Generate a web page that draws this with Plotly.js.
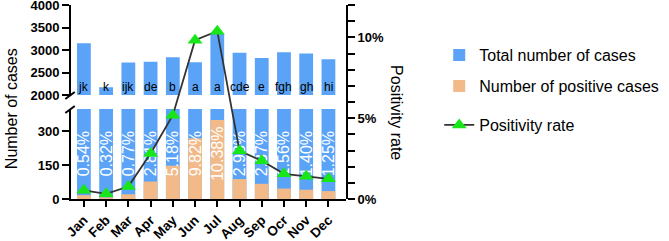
<!DOCTYPE html>
<html>
<head>
<meta charset="utf-8">
<script src="https://cdn.plot.ly/plotly-3.0.1.min.js"></script>
<style>html,body{margin:0;padding:0;background:#fff;}#chart{width:669px;height:241px;}</style>
</head>
<body>
<div id="chart"></div>
<script>
const months = ['Jan','Feb','Mar','Apr','May','Jun','Jul','Aug','Sep','Ocr','Nov','Dec'];
const totalCases = [3150, 2170, 2720, 2740, 2840, 2730, 3355, 2940, 2820, 2950, 2925, 2795];
const positiveCases = [17, 7, 21, 77, 147, 268, 348, 88, 67, 46, 41, 35];
const positivityRate = [0.54, 0.32, 0.77, 2.81, 5.18, 9.82, 10.38, 2.98, 2.37, 1.56, 1.40, 1.25];
const groupLetters = ['jk','k','ijk','de','b','a','a','cde','e','fgh','gh','hi'];
const rightTicks = [0,1,2,3,4,5,6,7,8,9,10,11,12];
const rightTickText = ['0%','','','','','5%','','','','','10%','',''];

const BLUE = '#5aa3f7';
const ORANGE = '#f1ba88';
const FONT = 'Arial, "Liberation Sans", sans-serif';

// pixel helpers for the paper area (plot area: x 71..363, y 5..199)
const W = 669, H = 241, L = 71, R = 363, T = 5, B = 199;
const px = X => (X - L) / (R - L);
const py = Y => (B - Y) / (B - T);

const rateLabels = positivityRate.map(v => v.toFixed(2) + '%');

const traces = [
  { type: 'bar', x: months, y: totalCases, xaxis: 'x', yaxis: 'y2', width: 0.62,
    marker: { color: BLUE }, name: 'Total number of cases', showlegend: false, hoverinfo: 'skip' },
  { type: 'bar', x: months, y: totalCases, xaxis: 'x', yaxis: 'y', width: 0.62,
    marker: { color: BLUE }, name: 'Total number of cases', legend: 'legend' },
  { type: 'bar', x: months, y: positiveCases, xaxis: 'x', yaxis: 'y', width: 0.62,
    marker: { color: ORANGE }, name: 'Number of positive cases', legend: 'legend2' },
  { type: 'bar', x: months, y: months.map(() => 280), base: months.map(() => 60),
    xaxis: 'x', yaxis: 'y', width: 0.95, marker: { color: 'rgba(0,0,0,0)' },
    text: rateLabels, textposition: 'inside', insidetextanchor: 'middle', textangle: -90,
    constraintext: 'none', textfont: { color: '#ffffff', size: 16, family: FONT },
    showlegend: false, hoverinfo: 'skip' },
  { type: 'scatter', mode: 'lines+markers', x: months, y: positivityRate, xaxis: 'x', yaxis: 'y3',
    line: { color: '#333333', width: 1.8 },
    marker: { symbol: 'triangle-up', size: 13, color: '#19e619' },
    name: 'Positivity rate', legend: 'legend3' }
];

const axisCommon = {
  showline: true, linecolor: '#000', linewidth: 2, ticks: 'outside', ticklen: 7, tickwidth: 2,
  tickcolor: '#000', showgrid: false, zeroline: false, ticklabeloverflow: 'allow',
  tickfont: { family: FONT, size: 13, color: '#000', weight: 'bold' }
};

const annotations = groupLetters.map((t, i) => ({
  x: months[i], y: 2000, xref: 'x', yref: 'y2', text: t, showarrow: false,
  yanchor: 'bottom', yshift: -1, font: { family: FONT, size: 12, color: '#000' }
}));
annotations.push({ xref: 'paper', yref: 'paper', x: px(8), y: py(108.5), xanchor: 'center', yanchor: 'middle',
  text: 'Number of cases', textangle: -90, showarrow: false, font: { family: FONT, size: 16, color: '#000' } });
annotations.push({ xref: 'paper', yref: 'paper', x: px(416.5), y: py(112.5), xanchor: 'center', yanchor: 'middle',
  text: 'Positivity rate', textangle: 90, showarrow: false, font: { family: FONT, size: 16, color: '#000' } });

const legendCommon = { xanchor: 'left', yanchor: 'middle', x: px(462), bgcolor: 'rgba(0,0,0,0)',
  font: { family: FONT, size: 16, color: '#000' }, borderwidth: 0 };

const layout = {
  width: W, height: H,
  margin: { l: L, r: W - R, t: T, b: H - B, pad: 0 },
  paper_bgcolor: '#fff', plot_bgcolor: 'rgba(0,0,0,0)',
  barmode: 'overlay',
  font: { family: FONT },
  xaxis: Object.assign({}, axisCommon, { domain: [0, 1], anchor: 'y', range: [-0.58, 11.79],
    tickangle: -45, ticklen: 6, tickfont: { family: FONT, size: 13.5, color: '#000', weight: 'bold' } }),
  yaxis: Object.assign({}, axisCommon, { domain: [0, py(109)], anchor: 'x', range: [0, 397],
    tickvals: [0, 150, 300] }),
  yaxis2: Object.assign({}, axisCommon, { domain: [py(95), 1], anchor: 'x', range: [2000, 4000],
    tickvals: [2000, 2500, 3000, 3500, 4000] }),
  yaxis3: Object.assign({}, axisCommon, { domain: [0, 1], anchor: 'x', side: 'right', range: [0, 12],
    tickvals: rightTicks, ticktext: rightTickText }),
  legend: Object.assign({}, legendCommon, { y: py(55) }),
  legend2: Object.assign({}, legendCommon, { y: py(86) }),
  legend3: Object.assign({}, legendCommon, { y: py(125) }),
  annotations: annotations,
  shapes: [
    { type: 'line', xref: 'paper', yref: 'paper', x0: px(65), y0: py(99), x1: px(75), y1: py(92),
      line: { color: '#000', width: 2 } },
    { type: 'line', xref: 'paper', yref: 'paper', x0: px(65), y0: py(113), x1: px(75), y1: py(106),
      line: { color: '#000', width: 2 } }
  ],
  showlegend: true
};

Plotly.newPlot('chart', traces, layout, { staticPlot: true, displayModeBar: false });
</script>
</body>
</html>
